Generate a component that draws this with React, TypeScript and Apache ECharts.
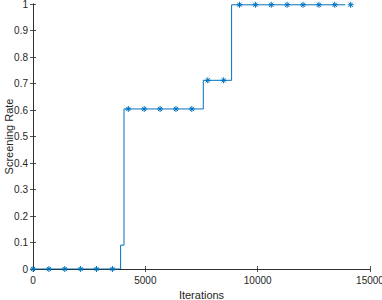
import React, { useEffect, useRef } from "react";
import * as echarts from "echarts";

// Step line: change points [iteration, rate]
const stepX = [0, 3900, 4050, 7580, 8840, 13900];
const stepY = [0, 0.09, 0.604, 0.712, 0.997, 0.997];

// Asterisk markers
const markerX = [0, 707, 1414, 2121, 2828, 3535, 4242, 4949, 5656, 6363, 7070, 7777, 8484, 9191, 9898, 10605, 11312, 12019, 12726, 13433, 14140];
const markerY = [0, 0, 0, 0, 0, 0, 0.604, 0.604, 0.604, 0.604, 0.604, 0.712, 0.712, 0.997, 0.997, 0.997, 0.997, 0.997, 0.997, 0.997, 0.997];

const xTicks = [0, 5000, 10000, 15000];
const yTicks = [0, 0.1, 0.2, 0.3, 0.4, 0.5, 0.6, 0.7, 0.8, 0.9, 1];

const BLUE = "#0072BD";
const AX = "#262626";
const FONT = "Liberation Sans";

export default function App() {
  const ref = useRef<HTMLDivElement>(null);
  useEffect(() => {
    if (!ref.current) return;
    const chart = echarts.init(ref.current, undefined, { renderer: "svg" });
    const tickStyle = { inside: true, length: 3, lineStyle: { color: AX, width: 0.8 } };
    const lineStyle = { color: AX, width: 0.8 };
    chart.setOption({
      animation: false,
      backgroundColor: "#ffffff",
      grid: { left: 33, top: 4, right: 12, bottom: 31, containLabel: false, outerBoundsMode: "none" },
      xAxis: [
        {
          type: "value",
          min: xTicks[0],
          max: xTicks[xTicks.length - 1],
          interval: 5000,
          position: "bottom",
          name: "Iterations",
          nameLocation: "middle",
          nameGap: 19,
          nameTextStyle: { color: AX, fontFamily: FONT, fontSize: 11 },
          axisLine: { show: true, lineStyle },
          axisTick: tickStyle,
          axisLabel: { color: AX, fontFamily: FONT, fontSize: 10, margin: 6, formatter: (v: number) => String(v) },
          splitLine: { show: false },
        },
        {
          type: "value",
          min: xTicks[0],
          max: xTicks[xTicks.length - 1],
          interval: 5000,
          position: "top",
          axisLine: { show: true, lineStyle },
          axisTick: tickStyle,
          axisLabel: { show: false },
          splitLine: { show: false },
        },
      ],
      yAxis: [
        {
          type: "value",
          min: yTicks[0],
          max: yTicks[yTicks.length - 1],
          interval: 0.1,
          position: "left",
          name: "Screening Rate",
          nameLocation: "middle",
          nameGap: 19,
          nameMoveOverlap: false,
          nameTextStyle: { color: AX, fontFamily: FONT, fontSize: 11 },
          axisLine: { show: true, lineStyle },
          axisTick: tickStyle,
          axisLabel: {
            color: AX,
            fontFamily: FONT,
            fontSize: 10,
            margin: 5,
            formatter: (v: number) => String(Math.round(v * 10) / 10),
          },
          splitLine: { show: false },
        },
        {
          type: "value",
          min: yTicks[0],
          max: yTicks[yTicks.length - 1],
          interval: 0.1,
          position: "right",
          axisLine: { show: true, lineStyle },
          axisTick: tickStyle,
          axisLabel: { show: false },
          splitLine: { show: false },
        },
      ],
      series: [
        {
          type: "line",
          step: "end",
          data: stepX.map((x, i) => [x, stepY[i]]),
          showSymbol: false,
          symbol: "none",
          lineStyle: { color: BLUE, width: 1 },
          z: 2,
        },
        {
          type: "line",
          data: markerX.map((x, i) => [x, markerY[i]]),
          lineStyle: { width: 0, opacity: 0 },
          symbol: "path://M0,5L10,5M5,0L5,10M1.5,1.5L8.5,8.5M8.5,1.5L1.5,8.5",
          symbolSize: 6,
          showSymbol: true,
          itemStyle: { color: "none", borderColor: BLUE, borderWidth: 1 },
          z: 3,
        },
      ],
    });
    return () => chart.dispose();
  }, []);
  return (
    <div
      ref={ref}
      style={{ position: "absolute", left: 0, top: 0, width: 382, height: 300, background: "#fff" }}
    />
  );
}
